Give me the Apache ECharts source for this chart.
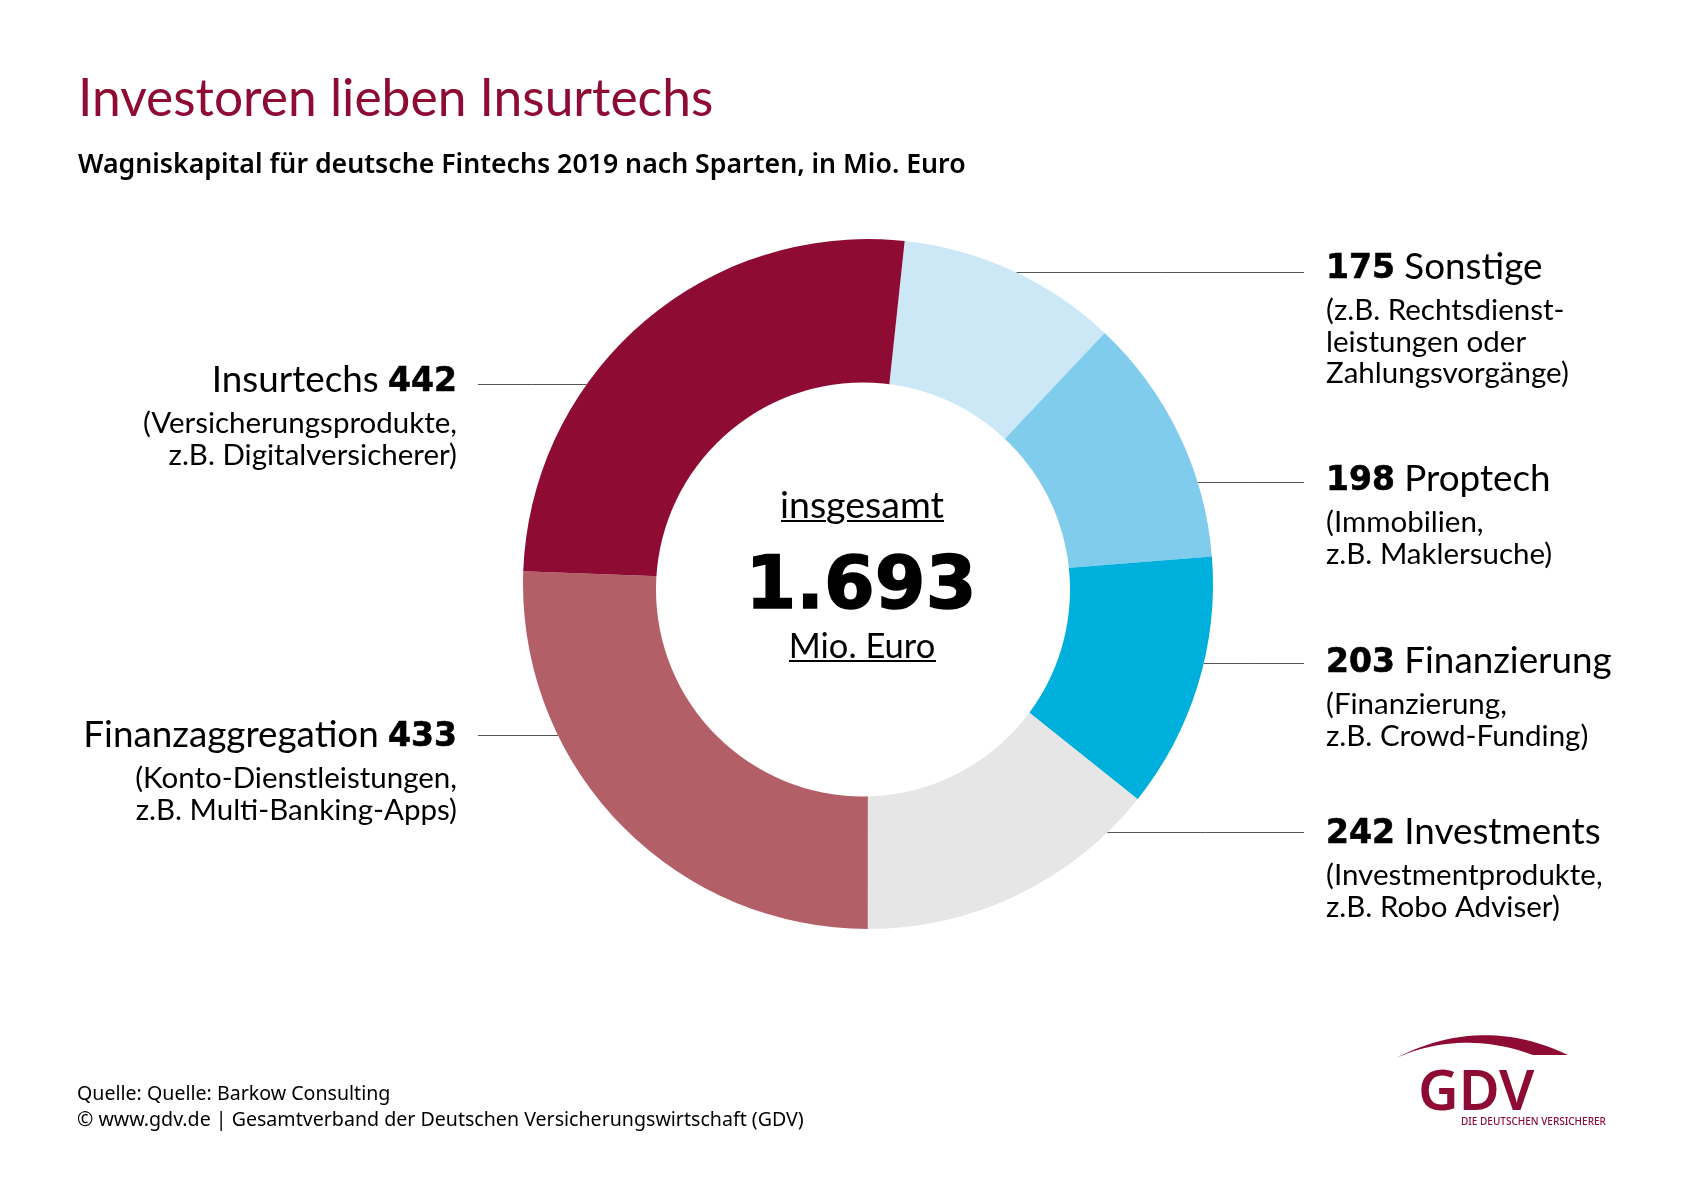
<!DOCTYPE html>
<html>
<head>
<meta charset="utf-8">
<script src="https://cdn.jsdelivr.net/npm/echarts@6/dist/echarts.min.js"></script>
<style>
html,body{margin:0;padding:0;background:#fff;}
#chart{width:1703px;height:1204px;}
</style>
</head>
<body>
<div id="chart"></div>
<script>
var categories = ['Sonstige', 'Proptech', 'Finanzierung', 'Investments', 'Finanzaggregation', 'Insurtechs'];
var values = [175, 198, 203, 242, 433, 442];
var details = [
    ['(z.B. Rechtsdienst-', 'leistungen oder', 'Zahlungsvorgänge)'],
    ['(Immobilien,', 'z.B. Maklersuche)'],
    ['(Finanzierung,', 'z.B. Crowd-Funding)'],
    ['(Investmentprodukte,', 'z.B. Robo Adviser)'],
    ['(Konto-Dienstleistungen,', 'z.B. Multi-Banking-Apps)'],
    ['(Versicherungsprodukte,', 'z.B. Digitalversicherer)']
];
var sliceColors = ['#cce8f7', '#7fcced', '#00b0dc', '#e6e6e6', '#b35f68', '#8e0c34'];

var cx = 868, cy = 584, outerR = 345;
// y of the callout line and of the label's top edge, per slice
var lineY = [272.5, 482.5, 663.5, 832.5, 735.5, 384.5];
var labelTop = [243, 455, 637, 808, 711, 356];

var MAROON = '#8e0c34';
var FONT = 'Lato';

function richFor(side) {
    var align = side === 'left' ? 'right' : 'left';
    return {
        h: {fontFamily: FONT, fontSize: 36.8, color: '#000', lineHeight: 48, padding: [0, 0, 4, 0], align: align},
        b: {fontFamily: 'DejaVu Sans', fontWeight: 'bold', fontSize: 33, color: '#000', lineHeight: 52, textBorderColor: '#000', textBorderWidth: 0.6, align: align},
        s: {fontFamily: FONT, fontSize: 29.5, color: '#000', lineHeight: 31.5, align: align}
    };
}

var pieData = categories.map(function (name, i) {
    var left = i >= 4;
    var head = left ? '{h|' + name + ' }{b|' + values[i] + '}' : '{b|' + values[i] + '}{h| ' + name + '}';
    var lines = [head].concat(details[i].map(function (t) { return '{s|' + t + '}'; }));
    return {
        name: name,
        value: values[i],
        itemStyle: {color: sliceColors[i]},
        label: {formatter: lines.join('\n'), rich: richFor(left ? 'left' : 'right')}
    };
});

function textEl(text, x, y, font, fill, align) {
    return {
        type: 'text', z: 10, silent: true,
        style: {text: text, x: x, y: y, font: font, fill: fill, align: align || 'left', verticalAlign: 'bottom'}
    };
}
function ruleEl(x, y, w, h) {
    return {type: 'rect', z: 10, silent: true, shape: {x: x, y: y, width: w, height: h}, style: {fill: '#000'}};
}
// swoosh of the logo, two quadratic curves sampled into a polygon
function swoosh() {
    var pts = [], n = 24, t, u;
    for (var i = 0; i <= n; i++) {
        t = i / n; u = 1 - t;
        pts.push([u * u * 1396 + 2 * u * t * 1482 + t * t * 1568, u * u * 1058 + 2 * u * t * 1014 + t * t * 1055]);
    }
    for (i = 0; i <= n; i++) {
        t = i / n; u = 1 - t;
        pts.push([u * u * 1533 + 2 * u * t * 1462 + t * t * 1396, u * u * 1055 + 2 * u * t * 1029 + t * t * 1058]);
    }
    return pts;
}

var centerNumber = textEl('1.693', 861, 626, 'bold 73px "DejaVu Sans"', '#000', 'center');
centerNumber.style.stroke = '#000';
centerNumber.style.lineWidth = 1.5;

var myChart = echarts.init(document.getElementById('chart'), null, {renderer: 'canvas'});
myChart.setOption({
    animation: false,
    backgroundColor: '#fff',
    series: [{
        type: 'pie',
        center: [cx, cy],
        radius: [190, outerR],
        startAngle: 83.9,
        clockwise: true,
        silent: true,
        data: pieData,
        label: {show: true, position: 'outside'},
        labelLine: {show: true, lineStyle: {color: '#555', width: 1}},
        labelLayout: function (params) {
            var i = params.dataIndex;
            var left = i >= 4;
            var dy = lineY[i] - cy;
            var ringX = Math.sqrt(outerR * outerR - dy * dy);
            var x0 = left ? cx - ringX : cx + ringX;
            var x1 = left ? 478 : 1304;
            return {
                x: left ? 457 : 1326,
                y: labelTop[i],
                align: left ? 'right' : 'left',
                verticalAlign: 'top',
                labelLinePoints: [[x0, lineY[i]], [(x0 + x1) / 2, lineY[i]], [x1, lineY[i]]]
            };
        }
    }],
    graphic: [
        // the hole sits slightly off the ring's centre in the original
        {type: 'circle', z: 5, silent: true, shape: {cx: 863, cy: 589.5, r: 207}, style: {fill: '#fff'}},

        textEl('Investoren lieben Insurtechs', 78, 125, '51.5px Lato', MAROON),
        textEl('Wagniskapital für deutsche Fintechs 2019 nach Sparten, in Mio. Euro', 78, 179, '600 26.7px "Noto Sans"', '#000'),

        textEl('insgesamt', 862, 525, '37.5px Lato', '#000', 'center'),
        ruleEl(781, 520, 45, 2),
        ruleEl(847, 520, 97, 2),
        centerNumber,
        textEl('Mio. Euro', 862, 664, '34.5px Lato', '#000', 'center'),
        ruleEl(789, 660, 147, 2),

        textEl('Quelle: Quelle: Barkow Consulting', 77, 1104, '19.6px "Noto Sans"', '#000'),
        textEl('© www.gdv.de | Gesamtverband der Deutschen Versicherungswirtschaft (GDV)', 77, 1130, '19.6px "Noto Sans"', '#000'),

        {type: 'polygon', z: 10, silent: true, shape: {points: swoosh()}, style: {fill: MAROON}},
        textEl('GDV', 1418, 1122, '600 56px "Noto Sans"', MAROON),
        textEl('DIE DEUTSCHEN VERSICHERER', 1461, 1127, '500 10px "Noto Sans"', MAROON)
    ]
});
</script>
</body>
</html>
